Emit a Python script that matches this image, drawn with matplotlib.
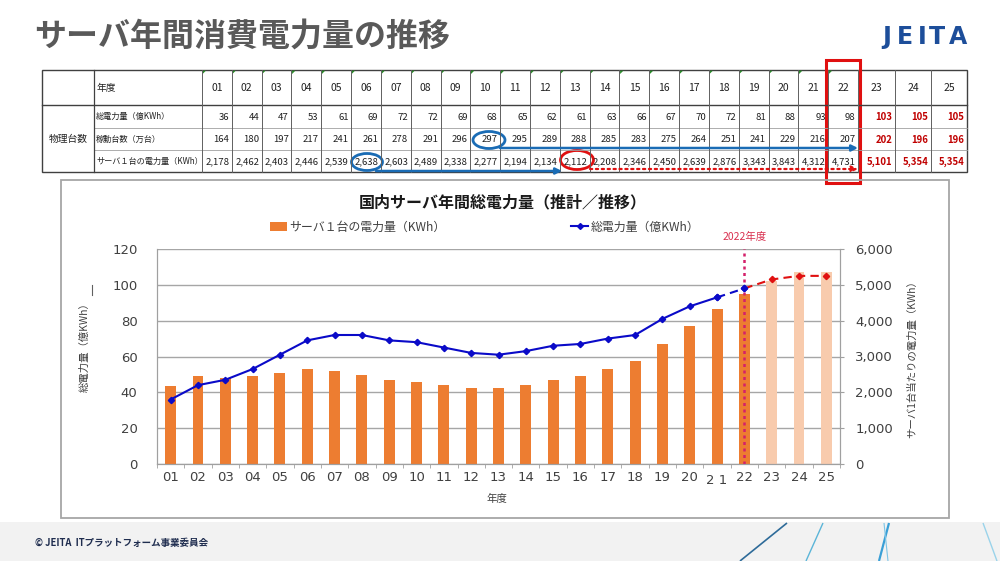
import matplotlib
matplotlib.use("Agg")
import matplotlib.pyplot as plt
from matplotlib.patches import Rectangle, Ellipse, Polygon
from matplotlib.lines import Line2D
from matplotlib.patches import Patch
import numpy as np

plt.rcParams['font.family'] = ['Noto Sans CJK JP', 'DejaVu Sans']

# ---------------- data ----------------
years = ['01', '02', '03', '04', '05', '06', '07', '08', '09', '10', '11', '12', '13',
         '14', '15', '16', '17', '18', '19', '20', '21', '22', '23', '24', '25']
total_power = [36, 44, 47, 53, 61, 69, 72, 72, 69, 68, 65, 62, 61, 63, 66, 67, 70, 72,
               81, 88, 93, 98, 103, 105, 105]            # 億KWh
units = [164, 180, 197, 217, 241, 261, 278, 291, 296, 297, 295, 289, 288, 285, 283,
         275, 264, 251, 241, 229, 216, 207, 202, 196, 196]  # 万台
per_server = [2178, 2462, 2403, 2446, 2539, 2638, 2603, 2489, 2338, 2277, 2194, 2134,
              2112, 2208, 2346, 2450, 2639, 2876, 3343, 3843, 4312, 4731, 5101, 5354, 5354]  # KWh
row_labels = ['総電力量（億KWh）', '稼動台数（万台）', 'サーバ１台の電力量（KWh）']
n_actual = 22  # 01..22 actual, 23..25 forecast

ORANGE = '#ED7D31'
LIGHT = '#F8CBAD'
BLUE = '#0a0ac8'
RED = '#e01010'

fig = plt.figure(figsize=(10, 5.61), dpi=100)
fig.patch.set_facecolor('white')

# overlay in pixel coordinates
ov = fig.add_axes([0, 0, 1, 1], zorder=0)
ov.set_xlim(0, 1000)
ov.set_ylim(561, 0)
ov.axis('off')

# title + logo
ov.text(34, 37, 'サーバ年間消費電力量の推移', fontsize=23, fontweight='bold',
        color='#595959', va='center', ha='left')
for ch, xx in zip('JEITA', [887, 905, 922, 937, 958]):
    ov.text(xx, 37, ch, fontsize=17, fontweight='bold', color='#1d4e9a',
            va='center', ha='center', family='DejaVu Sans')

# footer
ov.add_patch(Rectangle((0, 522), 1000, 39, facecolor='#f2f2f2', edgecolor='none'))
ov.text(35, 543, '© JEITA  ITプラットフォーム事業委員会', fontsize=6.8, fontweight='bold',
        color='#1f2d4f', va='center', ha='left')
for (x0, y0, x1, y1, c, lw) in [(740, 561, 787, 523, '#2e6b99', 1.2),
                                 (806, 561, 823, 523, '#5bb5d8', 1.0),
                                 (879, 561, 889, 523, '#3a9fd6', 1.6),
                                 (884, 523, 888, 561, '#7cc4e6', 0.8),
                                 (983, 523, 997, 561, '#9ad3ea', 1.0)]:
    ov.plot([x0, x1], [y0, y1], color=c, lw=lw, solid_capstyle='butt')

# ---------------- table ----------------
tl, tr, tt, tb = 42, 967, 70, 172
row_y = [105, 128, 150, 172]
col_edges = [202 + i * 29.82 for i in range(23)] + [895, 931, 967]

ov.add_patch(Rectangle((tl, tt), tr - tl, tb - tt, fill=False, edgecolor='#404040', lw=1.0))
ov.plot([tl, tr], [105, 105], color='#404040', lw=1.0)
for yy in row_y[1:3]:
    ov.plot([94, tr], [yy, yy], color='#a0a0a0', lw=0.6)
ov.plot([94, 94], [tt, tb], color='#404040', lw=0.9)
for xe in col_edges[:-1]:
    ov.plot([xe, xe], [tt, tb], color='#606060', lw=0.7)

ov.text(97, 88, '年度', fontsize=7, ha='left', va='center', color='#202020')
ov.text(68, 139, '物理台数', fontsize=7, ha='center', va='center', color='#202020')
for lbl, (y0, y1) in zip(row_labels, zip(row_y[:-1], row_y[1:])):
    ov.text(96, (y0 + y1) / 2, lbl, fontsize=5.9, ha='left', va='center', color='#202020')

rows = [total_power, units, per_server]
for i, yr in enumerate(years):
    xl, xr = col_edges[i], col_edges[i + 1]
    ov.text((xl + xr) / 2, 88, yr, fontsize=7.5, ha='center', va='center', color='#202020')
    if i < n_actual:
        ov.add_patch(Polygon([[xl + 0.6, tt + 0.6], [xl + 4, tt + 0.6], [xl + 0.6, tt + 4]],
                             closed=True, facecolor='#2a8a2a', edgecolor='none'))
    for r, vals in enumerate(rows):
        y0, y1 = row_y[r], row_y[r + 1]
        forecast = i >= n_actual
        ov.text(xr - 2.5, (y0 + y1) / 2 + 0.5, f'{vals[i]:,}', fontsize=6.9,
                ha='right', va='center',
                color='#c00000' if forecast else '#202020',
                fontweight='bold' if forecast else 'normal')

# annotations on table
ov.add_patch(Ellipse((367, 162), 31, 17, fill=False, edgecolor='#1a6cb5', lw=2))
ov.add_patch(Ellipse((489, 140), 32, 17, fill=False, edgecolor='#1a6cb5', lw=2))
ov.add_patch(Ellipse((577, 160), 33, 19, fill=False, edgecolor='#e01010', lw=2))
ov.annotate('', xy=(858, 148), xytext=(500, 148),
            arrowprops=dict(arrowstyle='-|>', color='#1a6cb5', lw=1.8, mutation_scale=9,
                            shrinkA=0, shrinkB=0))
ov.annotate('', xy=(562, 171), xytext=(376, 171),
            arrowprops=dict(arrowstyle='-|>', color='#1a6cb5', lw=1.8, mutation_scale=9,
                            shrinkA=0, shrinkB=0))
ov.annotate('', xy=(858, 169), xytext=(590, 169),
            arrowprops=dict(arrowstyle='-|>', color='#e01010', lw=1.6, linestyle=':',
                            mutation_scale=9, shrinkA=0, shrinkB=0))
ov.add_patch(Rectangle((826, 60), 34, 123, fill=False, edgecolor='#e01010', lw=2.2))

# chart frame
ov.add_patch(Rectangle((61, 180), 888, 338, fill=False, edgecolor='#a6a6a6', lw=1.3))
ov.text(503, 202, '国内サーバ年間総電力量（推計／推移）', fontsize=11.5, fontweight='bold',
        ha='center', va='center', color='#1a1a1a')
ov.text(85, 345, '総電力量（億KWh）', fontsize=7.5, rotation=90, ha='center', va='center',
        color='#404040')
ov.plot([92, 92], [285, 295], color='#606060', lw=0.8)
ov.text(912, 357, 'サーバ1台当たりの電力量（KWh）', fontsize=7.5, rotation=90,
        ha='center', va='center', color='#404040')
ov.text(497, 499, '年度', fontsize=7.5, ha='center', va='center', color='#404040')

# ---------------- chart ----------------
L, R, T, B = 157, 840, 249, 464
axb = fig.add_axes([L / 1000, (561 - B) / 561, (R - L) / 1000, (B - T) / 561], zorder=1)
ax = axb.twinx()
ax.set_zorder(2)
ax.patch.set_visible(False)

x = np.arange(len(years))
bar_colors = [ORANGE if i < n_actual else LIGHT for i in range(len(years))]
axb.bar(x, per_server, width=0.4, color=bar_colors, zorder=2)
axb.set_ylim(0, 6000)
axb.set_xlim(-0.5, len(years) - 0.5)
axb.set_yticks(np.arange(0, 6001, 1000))
axb.yaxis.grid(True, color='#a6a6a6', lw=1.0, zorder=0)
axb.set_axisbelow(True)

# line on left scale
ax.set_ylim(0, 120)
ax.set_yticks(np.arange(0, 121, 20))
ax.plot(x[:n_actual - 1], total_power[:n_actual - 1], color=BLUE, lw=1.5,
        marker='D', ms=3.2, zorder=5)
ax.plot(x[n_actual - 2:n_actual], total_power[n_actual - 2:n_actual], color=BLUE, lw=1.5,
        ls=(0, (4, 2.5)), marker='D', ms=3.2, zorder=5)
ax.plot(x[n_actual - 1:], total_power[n_actual - 1:], color=RED, lw=1.5,
        ls=(0, (4, 2.5)), zorder=4)
ax.plot(x[n_actual:], total_power[n_actual:], color=RED, lw=0, marker='D', ms=3.2, zorder=5)
ax.plot([x[n_actual - 1]], [total_power[n_actual - 1]], color=BLUE, lw=0, marker='D',
        ms=3.2, zorder=6)

# 2022 marker line
axb.axvline(n_actual - 1, color='#d4206a', lw=1.8, ls=(0, (1.2, 1.4)), zorder=3)
ax.annotate('2022年度', xy=(n_actual - 1, 1.0), xycoords=('data', 'axes fraction'),
            xytext=(0, 5), textcoords='offset points', ha='center', va='bottom',
            fontsize=7.5, color='#d9304f')

# axes styling: ticks — ax (line) on left, axb (bars) on right
ax.yaxis.tick_left()
axb.yaxis.tick_right()
for a in (ax, axb):
    for s in a.spines.values():
        s.set_color('#a0a0a0')
    a.spines['top'].set_visible(False)
ax.tick_params(axis='y', length=0, pad=14, labelsize=9.5, labelcolor='#404040')
axb.tick_params(axis='y', length=3, color='#a0a0a0', pad=8, labelsize=9.5,
                labelcolor='#404040')
for lab in ax.get_yticklabels() + axb.get_yticklabels():
    lab.set_family('DejaVu Sans')
axb.set_yticklabels([f'{v:,}' for v in range(0, 6001, 1000)], family='DejaVu Sans')

xlabels = [y if y != '21' else '' for y in years]
axb.set_xticks(x)
axb.set_xticklabels(xlabels, family='DejaVu Sans', fontsize=9.5, color='#404040')
axb.tick_params(axis='x', length=0, pad=5)
axb.set_xticks(np.arange(-0.5, len(years), 1), minor=True)
axb.tick_params(axis='x', which='minor', length=3, color='#a0a0a0')
ax.tick_params(axis='x', length=0)
axb.annotate('2 1', xy=(20, 0), xycoords=('data', 'axes fraction'), xytext=(0, -7),
             textcoords='offset points', ha='center', va='top', fontsize=9.5,
             color='#404040', family='DejaVu Sans')

# legend
handles = [Patch(facecolor=ORANGE, edgecolor='none'),
           Line2D([0], [0], color=BLUE, lw=1.5, marker='D', ms=3)]
ax.legend(handles, ['サーバ１台の電力量（KWh）', '総電力量（億KWh）'], ncol=2,
          loc='center', bbox_to_anchor=(0.48, 1.102), frameon=False, fontsize=8.6,
          columnspacing=10.5, handlelength=1.4, handletextpad=0.25,
          labelcolor='#404040')

fig.savefig('out.png', dpi=100)
